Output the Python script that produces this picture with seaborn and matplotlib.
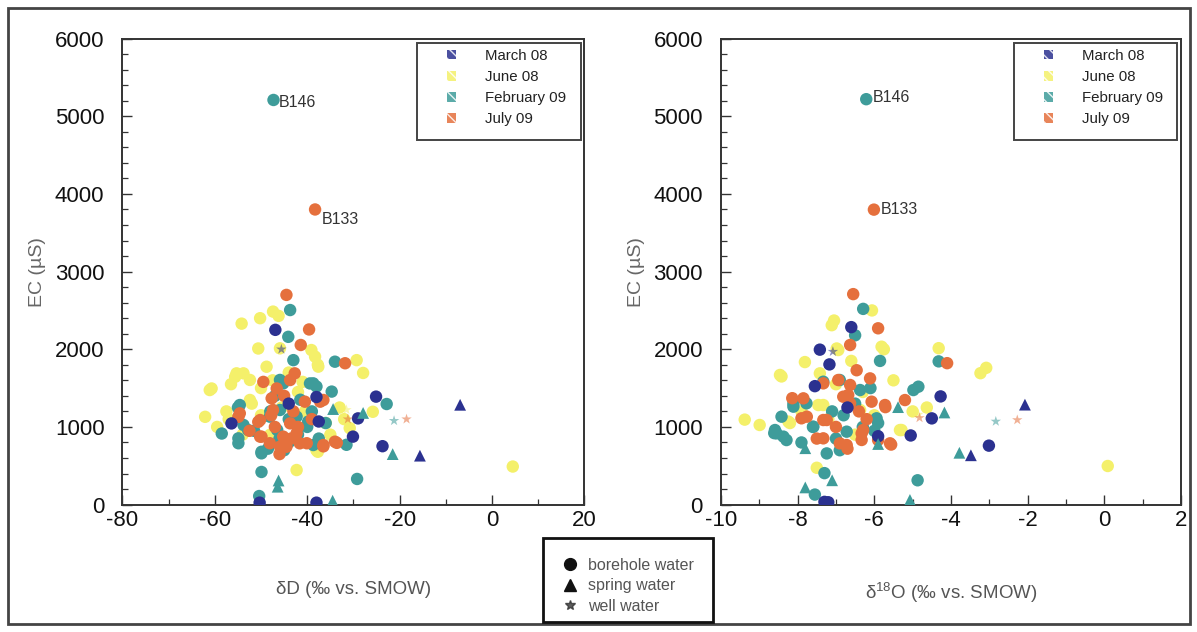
import matplotlib
matplotlib.use("Agg")
import matplotlib.pyplot as plt
from matplotlib.lines import Line2D
from matplotlib.patches import Patch, Rectangle
from matplotlib.ticker import MultipleLocator
import pandas as pd
import seaborn as sns

# ---------------------------------------------------------------- data
campaigns = ["March 08", "June 08", "February 09", "July 09"]
campaign_colors = ["#2b3190", "#f4f06a", "#3e9c9a", "#e5703d"]
sources = ["borehole water", "spring water", "well water"]

# deltaD (permil) vs EC (uS)
dD_mar08_bore = [(-46.9, 2250), (-56.4, 1045), (-25.1, 1390), (-29.0, 1110), (-23.7, 752),
                 (-30.1, 875), (-44.0, 1300), (-38.0, 1385), (-37.5, 1070), (-50.3, 25), (-38.0, 25)]
dD_mar08_spring = [(-6.9, 1285), (-15.6, 630)]
dD_mar08_well = [(-45.6, 2000)]

dD_jun08_bore = [(-54.2, 2330), (-50.2, 2400), (-47.4, 2485), (-46.2, 2430), (-50.6, 2010),
                 (-39.1, 1990), (-37.7, 1800), (-29.3, 1860), (-27.9, 1695), (-60.7, 1495),
                 (-55.6, 1645), (-53.8, 1690), (-52.4, 1605), (-48.8, 1775), (-56.5, 1550),
                 (-62.1, 1130), (-59.5, 1000), (-38.0, 700), (-42.3, 445), (4.5, 490),
                 (-25.8, 1195), (-30.8, 985), (-37.7, 680), (-40.5, 1200), (-45.5, 1250),
                 (-52.0, 1300), (-50.0, 1150), (-42.0, 1450), (-36.0, 1050), (-48.0, 900),
                 (-44.0, 1700), (-47.5, 1600), (-41.0, 1580), (-57.5, 1200), (-54.0, 900),
                 (-33.0, 1250), (-55.3, 1690), (-61.1, 1475), (-52.4, 1347), (-45.9, 2012),
                 (-38.3, 1905), (-37.6, 1776), (-50.0, 1500), (-57.0, 1100), (-35.0, 900),
                 (-32.0, 1100)]
dD_jun08_well = [(-31.5, 1220)]

dD_feb09_bore = [(-47.3, 5210), (-43.7, 2505), (-44.1, 2160), (-43.0, 1860), (-34.0, 1840),
                 (-45.9, 1605), (-39.4, 1560), (-38.0, 1520), (-34.7, 1455), (-58.5, 915),
                 (-53.8, 1025), (-54.9, 790), (-49.9, 680), (-22.8, 1295), (-29.2, 330),
                 (-49.9, 420), (-50.4, 110), (-31.5, 770), (-47.0, 1400), (-44.0, 1100),
                 (-42.0, 900), (-46.0, 850), (-40.0, 1000), (-48.0, 1200), (-55.0, 1250),
                 (-36.0, 1050), (-45.0, 700), (-39.0, 1200), (-51.5, 950), (-41.5, 1350),
                 (-37.5, 850), (-38.7, 1561), (-54.6, 1282), (-45.2, 1561), (-45.9, 1218),
                 (-48.1, 1132), (-42.3, 1132), (-54.9, 853), (-52.8, 960), (-49.9, 660),
                 (-39.8, 1068), (-38.7, 767), (-46.5, 960), (-44.0, 800), (-48.5, 720)]
dD_feb09_spring = [(-34.4, 1230), (-27.9, 1180), (-21.5, 650), (-46.2, 310), (-46.4, 230), (-34.5, 50)]
dD_feb09_well = [(-21.2, 1080)]

dD_jul09_bore = [(-38.3, 3800), (-44.5, 2700), (-39.6, 2255), (-41.4, 2055), (-31.8, 1820),
                 (-42.7, 1690), (-49.5, 1580), (-46.6, 1495), (-40.5, 1325), (-37.2, 1325),
                 (-54.9, 1130), (-50.6, 1065), (-50.2, 875), (-48.1, 790), (-44.5, 745),
                 (-40.1, 790), (-33.6, 795), (-36.5, 750), (-45.0, 1400), (-42.0, 1000),
                 (-47.0, 1000), (-43.0, 1200), (-52.5, 950), (-46.0, 650), (-39.0, 1100),
                 (-47.8, 1150), (-43.5, 850), (-43.7, 1604), (-47.7, 1368), (-36.5, 1347),
                 (-54.6, 1175), (-50.2, 1089), (-47.4, 1218), (-43.7, 1046), (-49.9, 875),
                 (-45.2, 875), (-42.3, 918), (-41.6, 789), (-45.9, 746), (-36.5, 767),
                 (-34.0, 810)]
dD_jul09_well = [(-18.5, 1100), (-31.2, 1100)]

# delta18O (permil) vs EC (uS)
dO_mar08_bore = [(-6.60, 2285), (-7.42, 1995), (-7.17, 1805), (-7.55, 1525), (-4.27, 1393),
                 (-4.50, 1110), (-5.05, 890), (-3.01, 759), (-7.30, 35), (-7.20, 30),
                 (-6.70, 1250), (-5.90, 880)]
dO_mar08_spring = [(-2.07, 1287), (-3.48, 635)]
dO_mar08_well = [(-7.08, 1970)]

dO_jun08_bore = [(-7.05, 2370), (-7.11, 2310), (-6.06, 2500), (-6.98, 2010), (-5.75, 2000),
                 (-7.81, 1835), (-8.42, 1650), (-7.42, 1690), (-4.32, 2014), (-3.08, 1761),
                 (-3.23, 1692), (-4.63, 1250), (-5.29, 960), (-9.38, 1094), (-8.99, 1025),
                 (-7.50, 474), (0.09, 497), (-7.46, 1282), (-6.30, 1450), (-6.00, 1150),
                 (-6.50, 900), (-7.90, 1200), (-8.20, 1050), (-5.50, 1600), (-6.60, 1850),
                 (-7.00, 1550), (-5.00, 1200), (-8.46, 1669), (-6.94, 1990), (-5.81, 2033),
                 (-7.33, 1282), (-6.37, 1218), (-8.24, 1068), (-5.33, 960), (-7.20, 1100)]
dO_jun08_well = [(-4.85, 1160)]

dO_feb09_bore = [(-6.21, 5220), (-6.29, 2520), (-6.50, 2180), (-5.85, 1850), (-4.32, 1844),
                 (-4.98, 1475), (-4.85, 1518), (-8.11, 1300), (-8.42, 1132), (-8.55, 917),
                 (-8.29, 831), (-8.61, 920), (-7.24, 659), (-4.87, 313), (-7.30, 405),
                 (-7.55, 129), (-6.90, 1604), (-7.33, 1582), (-6.30, 1000), (-6.80, 1150),
                 (-7.60, 1000), (-5.90, 1050), (-6.10, 1500), (-7.00, 850), (-6.50, 1300),
                 (-7.77, 1304), (-8.11, 1261), (-8.59, 960), (-8.37, 875), (-7.59, 1003),
                 (-6.37, 1475), (-5.94, 1111), (-6.72, 939), (-7.10, 1200), (-6.90, 700),
                 (-7.90, 800), (-6.00, 950)]
dO_feb09_spring = [(-5.38, 1255), (-4.17, 1186), (-3.78, 667), (-5.07, 60), (-7.10, 313),
                   (-7.80, 221), (-7.80, 726), (-5.90, 780)]
dO_feb09_well = [(-2.83, 1071)]

dO_jul09_bore = [(-6.01, 3798), (-6.55, 2710), (-5.90, 2270), (-6.63, 2055), (-4.10, 1821),
                 (-6.46, 1730), (-6.11, 1625), (-6.63, 1540), (-7.85, 1368), (-8.14, 1370),
                 (-7.76, 1132), (-6.81, 1389), (-6.63, 1303), (-6.07, 1325), (-5.72, 1282),
                 (-5.20, 1346), (-5.71, 1255), (-5.56, 773), (-7.33, 1089), (-6.90, 788),
                 (-6.33, 917), (-5.90, 831), (-7.50, 850), (-6.70, 720), (-6.20, 1100),
                 (-6.94, 1604), (-6.68, 1411), (-7.90, 1111), (-7.24, 1089), (-6.29, 960),
                 (-7.33, 853), (-6.72, 767), (-5.59, 789), (-6.33, 832), (-7.33, 1561),
                 (-6.40, 1200), (-7.00, 1000)]
dO_jul09_well = [(-4.82, 1117), (-2.27, 1090)]

# ---------------------------------------------------------------- table
def rows(panel, campaign, source, pairs):
    return [dict(panel=panel, campaign=campaign, source=source, iso=x, ec=y) for x, y in pairs]

records = []
# yellow first, then teal, orange and navy on top
for panel, sets in [
    ("dD", [("June 08", dD_jun08_bore, dD_jun08_well, []),
            ("February 09", dD_feb09_bore, dD_feb09_well, dD_feb09_spring),
            ("July 09", dD_jul09_bore, dD_jul09_well, []),
            ("March 08", dD_mar08_bore, dD_mar08_well, dD_mar08_spring)]),
    ("d18O", [("June 08", dO_jun08_bore, dO_jun08_well, []),
              ("February 09", dO_feb09_bore, dO_feb09_well, dO_feb09_spring),
              ("July 09", dO_jul09_bore, dO_jul09_well, []),
              ("March 08", dO_mar08_bore, dO_mar08_well, dO_mar08_spring)]),
]:
    for camp, bore, well, spring in sets:
        records += rows(panel, camp, "borehole water", bore)
        records += rows(panel, camp, "spring water", spring)
        records += rows(panel, camp, "well water", well)
df = pd.DataFrame(records)

palette = dict(zip(campaigns, campaign_colors))

# ---------------------------------------------------------------- style
sns.set_style("white")
plt.rcParams["font.family"] = ["Liberation Sans", "DejaVu Sans"]
plt.rcParams["mathtext.fontset"] = "custom"
plt.rcParams["mathtext.rm"] = "Liberation Sans"
plt.rcParams["mathtext.it"] = "Liberation Sans:italic"
plt.rcParams["axes.unicode_minus"] = False

fig = plt.figure(figsize=(11.97, 6.32), dpi=100)
axL = fig.add_axes([0.1023, 0.2016, 0.3859, 0.7373])
axR = fig.add_axes([0.6023, 0.2016, 0.3843, 0.7373])

marker_of = {"borehole water": "o", "spring water": "^", "well water": "*"}
size_of = {"borehole water": 80, "spring water": 72, "well water": 62}
alpha_of = {"borehole water": 1.0, "spring water": 1.0, "well water": 0.55}

panels = [
    (axL, "dD", (-80, 20), 20, 10, "\u03b4D (\u2030 vs. SMOW)"),
    (axR, "d18O", (-10, 2), 2, 1, "\u03b4$^{18}$O (\u2030 vs. SMOW)"),
]

for ax, key, xlim, xmaj, xmin, xlabel in panels:
    sub = df[df.panel == key]
    for src in sources:
        part = sub[sub.source == src]
        if part.empty:
            continue
        sns.scatterplot(data=part, x="iso", y="ec", hue="campaign", hue_order=campaigns,
                        palette=palette, marker=marker_of[src], s=size_of[src],
                        linewidth=0, alpha=alpha_of[src], legend=False, ax=ax, zorder=3)
    ax.set_xlim(*xlim)
    ax.set_ylim(0, 6000)
    ax.xaxis.set_major_locator(MultipleLocator(xmaj))
    ax.xaxis.set_minor_locator(MultipleLocator(xmin))
    ax.yaxis.set_major_locator(MultipleLocator(1000))
    ax.yaxis.set_minor_locator(MultipleLocator(200))
    ax.tick_params(axis="both", which="both", direction="in", top=False, right=False,
                   bottom=True, left=True, color="#333333")
    ax.tick_params(axis="both", which="major", length=7, width=1.0, labelsize=16,
                   labelcolor="#111111")
    ax.tick_params(axis="both", which="minor", length=4, width=0.9)
    ax.tick_params(axis="y", which="major", pad=13)
    ax.tick_params(axis="x", which="major", pad=4)
    for sp in ax.spines.values():
        sp.set_color("#333333")
        sp.set_linewidth(1.4)
    ax.set_xlabel(xlabel, fontsize=13.5, color="#555555")
    ax.set_ylabel("EC (\u00b5S)", fontsize=14, color="#666666")
    ax.xaxis.set_label_coords(0.5, -0.163)
    ax.yaxis.set_label_coords(-0.165, 0.5)

    # campaign legend: box plus frameless legend inside
    ax.add_patch(Rectangle((0.6376, 0.7824), 0.3544, 0.2086, transform=ax.transAxes,
                           fill=False, edgecolor="#444444", linewidth=1.4, zorder=5))
    handles = [Patch(facecolor=c, edgecolor="white", hatch="\\\\\\", linewidth=0, alpha=0.85)
               for c in campaign_colors]
    ax.legend(handles, campaigns, loc="upper left", bbox_to_anchor=(0.703, 0.978),
              frameon=False, fontsize=10.8, handlelength=0.6, handleheight=0.6,
              handletextpad=1.9, labelspacing=0.48, borderpad=0, borderaxespad=0,
              labelcolor="#222222")

# labelled samples
axL.annotate("B146", xy=dD_feb09_bore[0], xytext=(4, -2), textcoords="offset points",
             fontsize=11.5, color="#333333", va="center", ha="left")
axL.annotate("B133", xy=dD_jul09_bore[0], xytext=(5, -7), textcoords="offset points",
             fontsize=11.5, color="#333333", va="center", ha="left")
axR.annotate("B146", xy=dO_feb09_bore[0], xytext=(5, 1), textcoords="offset points",
             fontsize=11.5, color="#333333", va="center", ha="left")
axR.annotate("B133", xy=dO_jul09_bore[0], xytext=(5, 0), textcoords="offset points",
             fontsize=11.5, color="#333333", va="center", ha="left")

# water-type legend below the panels
fig.patches.append(Rectangle((543 / 1197, 1 - 622 / 632), 170 / 1197, 84 / 632,
                             transform=fig.transFigure, fill=False, edgecolor="#111111",
                             linewidth=2.0, zorder=5))
type_handles = [
    Line2D([], [], linestyle="none", marker="o", markersize=8.5, color="#111111"),
    Line2D([], [], linestyle="none", marker="^", markersize=8.5, color="#111111"),
    Line2D([], [], linestyle="none", marker="*", markersize=7, color="#333333", alpha=0.8),
]
fig.legend(type_handles, sources, loc="center", bbox_to_anchor=(0.5246, 0.073),
           frameon=False, fontsize=11.5, handlelength=1.0, handletextpad=0.6,
           labelspacing=0.35, borderpad=0, labelcolor="#555555")

# outer frame
fig.patches.append(Rectangle((8 / 1197, 1 - 624 / 632), 1182 / 1197, 616 / 632,
                             transform=fig.transFigure, fill=False, edgecolor="#444444",
                             linewidth=2.0, zorder=0))

fig.savefig("out.png", dpi=100)
